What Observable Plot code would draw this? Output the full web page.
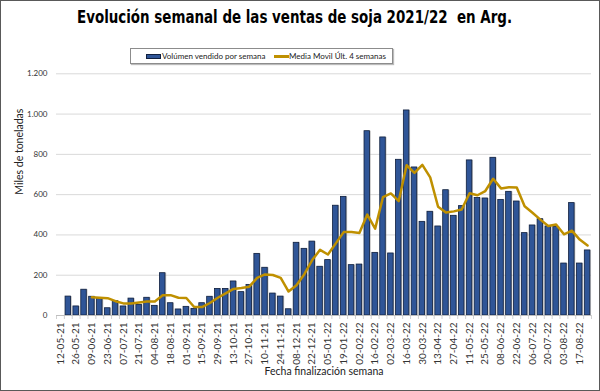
<!DOCTYPE html>
<html>
<head>
<meta charset="utf-8">
<script src="https://cdn.jsdelivr.net/npm/d3@7"></script>
<script src="https://cdn.jsdelivr.net/npm/@observablehq/plot@0.6"></script>
<style>
  html, body { margin: 0; padding: 0; background: #fff; }
  #wrap { position: relative; width: 600px; height: 391px; overflow: hidden; background: #fff; }
  #frame { position: absolute; left: 0; top: 0; width: 600px; height: 391px; box-sizing: border-box; border: 1px solid #595959; pointer-events: none; }
  #title { position: absolute; left: 0; top: 7px; font-family: "DejaVu Sans Condensed", "DejaVu Sans", sans-serif; font-stretch: condensed; font-weight: bold; font-size: 18.5px; line-height: 19px; color: #000; white-space: nowrap; transform-origin: 0 50%; }
  #legend { position: absolute; left: 130px; top: 48px; width: 263px; height: 16px; box-sizing: border-box; border: 1px solid #8c8c8c; box-shadow: 1px 1px 1px #bbb; font-family: Lato, sans-serif; font-size: 8px; color: #222; }
  .sw-bar { position: absolute; left: 15px; top: 5px; width: 15px; height: 5px; box-sizing: border-box; background: #2f5597; border: 1px solid #10203f; }
  .sw-line { position: absolute; left: 143px; top: 6px; width: 15px; height: 2.5px; background: #bf9000; }
  .lt { position: absolute; top: 2px; line-height: 10px; white-space: nowrap; }
  #chart { position: absolute; left: 0; top: 66px; }
  #chart [aria-label^="x-axis"] text { font-size: 10px; }
</style>
</head>
<body>
<div id="wrap">
  <div id="title">Evolución semanal de las ventas de soja 2021/22&nbsp; en Arg.</div>
  <div id="legend">
    <div class="sw-bar"></div><div class="lt" style="left:31px">Volúmen vendido por semana</div>
    <div class="sw-line"></div><div class="lt" style="left:158px">Media Movil Últ. 4 semanas</div>
  </div>
  <div id="chart"></div>
  <div id="frame"></div>
</div>
<script>
// Weekly categories (week-ending dates)
const dates = [
  "12-05-21","19-05-21","26-05-21","02-06-21","09-06-21","16-06-21","23-06-21","30-06-21",
  "07-07-21","14-07-21","21-07-21","28-07-21","04-08-21","11-08-21","18-08-21","25-08-21",
  "01-09-21","08-09-21","15-09-21","22-09-21","29-09-21","06-10-21","13-10-21","20-10-21",
  "27-10-21","03-11-21","10-11-21","17-11-21","24-11-21","01-12-21","08-12-21","15-12-21",
  "22-12-21","29-12-21","05-01-22","12-01-22","19-01-22","26-01-22","02-02-22","09-02-22",
  "16-02-22","23-02-22","02-03-22","09-03-22","16-03-22","23-03-22","30-03-22","06-04-22",
  "13-04-22","20-04-22","27-04-22","04-05-22","11-05-22","18-05-22","25-05-22","01-06-22",
  "08-06-22","15-06-22","22-06-22","29-06-22","06-07-22","13-07-22","20-07-22","27-07-22",
  "03-08-22","10-08-22","17-08-22","24-08-22"
];

// Volumen vendido por semana (miles de toneladas)
const volumen = [
  null, 94, 45, 128, 93, 83, 36, 71,
  45, 84, 53, 88, 48, 210, 61, 30,
  43, 33, 61, 93, 132, 132, 169, 116,
  152, 306, 237, 109, 94, 31, 361, 331,
  367, 242, 275, 545, 589, 250, 253, 915,
  311, 884, 308, 773, 1018, 735, 465, 515,
  442, 622, 495, 543, 770, 583, 581, 783,
  574, 614, 566, 409, 447, 478, 442, 439,
  258, 558, 258, 323
];

// Media móvil últimas 4 semanas
const mediaMovil = [
  null, null, null, null, 90, 88, 86, 71,
  60, 60, 65, 69, 70, 100, 101, 88,
  87, 42, 42, 62, 88, 110, 132, 137,
  143, 187, 204, 201, 187, 119, 150, 205,
  275, 326, 303, 358, 414, 414, 410, 501,
  431, 588, 606, 568, 746, 708, 748, 686,
  540, 511, 517, 526, 607, 597, 618, 679,
  631, 637, 635, 542, 510, 476, 444, 452,
  403, 421, 377, 348
];

// Tick labels (every other week)
const xTickLabels = [
  "12-05-21","26-05-21","09-06-21","23-06-21","07-07-21","21-07-21","04-08-21","18-08-21",
  "01-09-21","15-09-21","29-09-21","13-10-21","27-10-21","10-11-21","24-11-21","08-12-21",
  "22-12-21","05-01-22","19-01-22","02-02-22","16-02-22","02-03-22","16-03-22","30-03-22",
  "13-04-22","27-04-22","11-05-22","25-05-22","08-06-22","22-06-22","06-07-22","20-07-22",
  "03-08-22","17-08-22"
];
const yTicks = [0, 200, 400, 600, 800, 1000, 1200];

const labels = {
  y: "Miles de toneladas",
  x: "Fecha finalización semana"
};

const table = dates.map((d, i) => ({date: d, value: volumen[i], ma: mediaMovil[i]}));
const bars = table.filter(d => d.value != null);
const line = table.filter(d => d.ma != null);

const W = 600, H = 325, ML = 56, MR = 9, MT = 7.3, MB = 76;
const step = (W - ML - MR) / dates.length;
const esFormat = d3.formatLocale({decimal: ",", thousands: ".", grouping: [3], currency: ["", ""]}).format(",");

const chart = Plot.plot({
  width: W, height: H,
  marginLeft: ML, marginRight: MR, marginTop: MT, marginBottom: MB,
  style: {fontFamily: "Lato, sans-serif", fontSize: "8px", color: "#333", background: "transparent", overflow: "visible"},
  x: {domain: dates, paddingInner: 0.3, paddingOuter: 0.15, tickRotate: -90, tickSize: 0, tickPadding: 7,
      tickFormat: d => xTickLabels.includes(d) ? d : "", label: null},
  y: {domain: [0, 1200], ticks: yTicks, tickSize: 0, tickPadding: 9, tickFormat: esFormat, label: null},
  marks: [
    Plot.ruleY(yTicks, {stroke: "#d9d9d9", strokeWidth: 1}),
    Plot.ruleX(dates, {x: d => d, y1: 0, y2: -20, dx: -step / 2, stroke: "#d0d0d0"}),
    Plot.ruleX(dates.slice(-1), {x: d => d, y1: 0, y2: -20, dx: step / 2, stroke: "#d0d0d0"}),
    Plot.barY(bars, {x: "date", y: "value", fill: "#8c8c8c", fillOpacity: 0.55, dx: 1.2}),
    Plot.barY(bars, {x: "date", y: "value", fill: "#2f5597", stroke: "#0f1f3d", strokeWidth: 0.8}),
    Plot.ruleY([0], {stroke: "#bfbfbf"}),
    Plot.lineY(line, {x: "date", y: "ma", stroke: "#bf9000", strokeWidth: 2.5, strokeLinejoin: "round"}),
    Plot.text([labels.y], {frameAnchor: "left", dx: -37, rotate: -90, fontSize: 10.5, fill: "#222"}),
    Plot.text([labels.x], {frameAnchor: "bottom", dy: 59, fontSize: 10.5, fill: "#222"})
  ]
});
document.getElementById("chart").appendChild(chart);

// Fit the title to the reference's span (x 77 → 512)
const title = document.getElementById("title");
const tw = title.getBoundingClientRect().width;
const sx = 435 / tw;
title.style.left = "77px";
title.style.transform = `scaleX(${sx})`;
</script>
</body>
</html>
